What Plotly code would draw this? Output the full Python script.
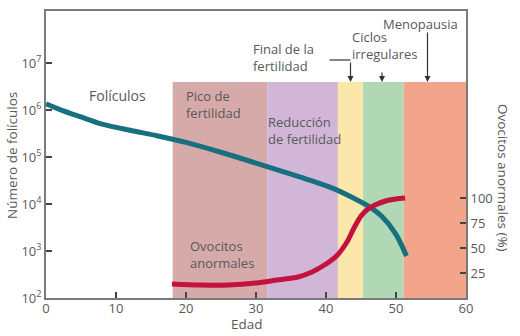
import plotly.graph_objects as go

# Follicle count (left axis, log)
fol_age = [0, 2, 5, 8, 12, 16, 20, 25, 30, 35, 38, 41, 44, 46, 48, 50, 51.5]
fol_count = [1.35e6, 1.02e6, 7.1e5, 5.0e5, 3.7e5, 2.8e5, 2.05e5, 1.26e5, 7.4e4,
             4.3e4, 3.1e4, 2.15e4, 1.32e4, 9.1e3, 5.4e3, 2.25e3, 780]

# Abnormal oocytes (right axis, %)
ab_age = [18, 22, 26, 30, 33, 36, 38, 40, 41.5, 43, 44, 45, 46, 47, 48.5, 50, 51.3]
ab_pct = [14, 13, 13, 15, 18, 21, 26, 34, 42, 56, 70, 82, 89, 93, 97, 99, 100]

# Phase bands (age start, age end)
band_names = ["Pico de fertilidad", "Reducción de fertilidad", "Final de la fertilidad",
              "Ciclos irregulares", "Menopausia"]
band_start = [18.1, 31.6, 41.7, 45.3, 51.1]
band_end = [31.6, 41.7, 45.3, 51.1, 60]
band_colors = ["#d6aaa8", "#d2b6d8", "#fbe7aa", "#b0d8b4", "#f2a58a"]

x_ticks = [0, 10, 20, 30, 40, 50, 60]
y_ticks = [1e2, 1e3, 1e4, 1e5, 1e6, 1e7]
y_ticktext = ["10<sup>2</sup>", "10<sup>3</sup>", "10<sup>4</sup>", "10<sup>5</sup>",
              "10<sup>6</sup>", "10<sup>7</sup>"]
y2_ticks = [25, 50, 75, 100]

TXT = "#58595b"
AX = "#7a7a7a"
FONT = "Open Sans"

fig = go.Figure()

fig.add_trace(go.Scatter(x=fol_age, y=fol_count, mode="lines",
                         line=dict(color="#17707f", width=5, shape="spline", smoothing=0.8),
                         yaxis="y", showlegend=False, hoverinfo="skip"))
fig.add_trace(go.Scatter(x=ab_age, y=ab_pct, mode="lines",
                         line=dict(color="#c4123f", width=5, shape="spline", smoothing=0.8),
                         yaxis="y2", showlegend=False, hoverinfo="skip"))

band_top = 0.753
for s, e, c in zip(band_start, band_end, band_colors):
    fig.add_shape(type="rect", xref="x", yref="y domain", x0=s, x1=e, y0=0, y1=band_top,
                  fillcolor=c, line=dict(width=0), layer="below")

# paper coords helpers: plot area x 46..466, y 11..298
def px(xp):
    return (xp - 46) / 420
def py(yp):
    return (298 - yp) / 287

def txt(text, x, y, xanchor="left", size=13, angle=0):
    fig.add_annotation(text=text, x=x, y=y, xref="paper", yref="paper", xanchor=xanchor,
                       yanchor="middle", showarrow=False, align="left", textangle=angle,
                       font=dict(family=FONT, size=size, color=TXT))

txt("Folículos", px(117), py(95), xanchor="center", size=14)
txt("Pico de<br>fertilidad", px(184), py(104))
txt("Reducción<br>de fertilidad", px(266), py(130))
txt("Ovocitos<br>anormales", px(188), py(254))
txt("Final de la<br>fertilidad", px(251), py(57))
txt("Ciclos<br>irregulares", px(350), py(45))
txt("Menopausia", px(381), py(24))

# Arrows
arrow_x = [43.5, 48.0, 54.5]
arrow_len = [21, 11, 51]
for ax_, ln in zip(arrow_x, arrow_len):
    fig.add_annotation(x=ax_, y=band_top, xref="x", yref="paper", ax=0, ay=-ln,
                       showarrow=True, arrowhead=2, arrowsize=1, arrowwidth=1.2,
                       arrowcolor="#333333", text="", standoff=0)
fig.add_shape(type="line", xref="x", yref="paper", x0=40.5, x1=43.5, y0=py(60), y1=py(60),
              line=dict(color="#333333", width=1.2))

# Axis titles
txt("Número de folículos", px(12), py(156), xanchor="center", size=13.5, angle=-90)
txt("Edad", px(247), py(324), xanchor="center", size=13.5)
txt("Ovocitos anormales (%)", px(503), py(178), xanchor="center", size=13.5, angle=90)

fig.update_layout(
    width=520, height=336,
    margin=dict(l=46, r=54, t=11, b=38, autoexpand=False),
    paper_bgcolor="white", plot_bgcolor="white",
    font=dict(family=FONT, size=12.5, color=TXT),
    xaxis=dict(range=[0, 60], tickvals=x_ticks, ticks="inside", ticklen=6, tickwidth=1.5,
               tickcolor="#444", showline=True, linecolor=AX, linewidth=1.8, mirror=True,
               showgrid=False, zeroline=False, automargin=False, ticklabelstandoff=-3,
               tickfont=dict(size=13, color=TXT)),
    yaxis=dict(type="log", range=[2, 8.106], tickvals=y_ticks, ticktext=y_ticktext,
               ticks="inside", ticklen=6, tickwidth=1.5, tickcolor="#444", showline=True,
               linecolor=AX, linewidth=1.8, showgrid=False, zeroline=False, automargin=False,
               tickfont=dict(size=13, color=TXT)),
    yaxis2=dict(overlaying="y", side="right", range=[0, 287], tickvals=y2_ticks,
                ticks="inside", ticklen=6, tickwidth=1.5, tickcolor="#444", showline=True,
                linecolor=AX, linewidth=1.8, showgrid=False, zeroline=False, automargin=False,
                tickfont=dict(size=13, color=TXT)),
)

fig.write_html("out.html", config={"displayModeBar": False},
               post_script="document.body.style.margin='0';document.body.style.padding='0';")
